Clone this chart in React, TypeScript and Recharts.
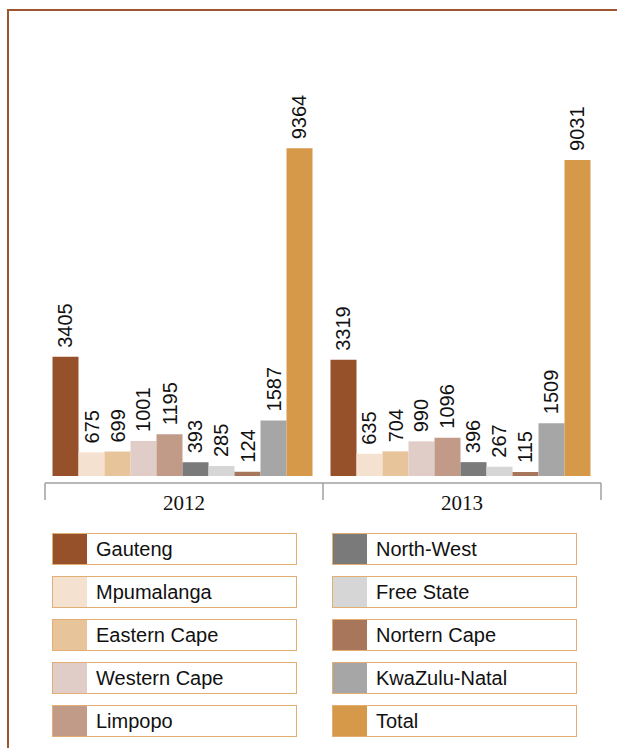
import React from 'react';
import { BarChart, Bar, XAxis, YAxis, Legend, LabelList } from 'recharts';

const years = ['2012', '2013'];
const provinces = [
  'Gauteng', 'Mpumalanga', 'Eastern Cape', 'Western Cape', 'Limpopo',
  'North-West', 'Free State', 'Nortern Cape', 'KwaZulu-Natal', 'Total',
];
const values2012 = [3405, 675, 699, 1001, 1195, 393, 285, 124, 1587, 9364];
const values2013 = [3319, 635, 704, 990, 1096, 396, 267, 115, 1509, 9031];
const colors = [
  '#96502A', '#F5E1CF', '#E8C49A', '#E1CDC7', '#C29B88',
  '#7A7A7A', '#D6D6D6', '#A8775B', '#A6A6A6', '#D6994A',
];

const seriesByYear = [values2012, values2013];
const data = years.map((y, i) => {
  const row: Record<string, any> = { year: y };
  provinces.forEach((_, j) => {
    row['s' + j] = seriesByYear[i][j];
  });
  return row;
});

const SANS = '"Liberation Sans", Arial, sans-serif';
const SERIF = '"Liberation Serif", "Times New Roman", serif';

const renderValueLabel = (props: any) => {
  const { x, y, width, value } = props;
  const cx = Number(x) + Number(width) / 2;
  const ty = Number(y) - 9;
  return (
    <text
      x={cx}
      y={ty}
      transform={`rotate(-90 ${cx} ${ty})`}
      textAnchor="start"
      dominantBaseline="central"
      fontFamily={SANS}
      fontSize={20}
      fill="#111"
    >
      {value}
    </text>
  );
};

const YearTick = (props: any) => {
  const { x, y, payload, index, visibleTicksCount, width } = props;
  const count = visibleTicksCount || years.length;
  const bw = (width ? Number(width) : 556) / count;
  const left = x - bw / 2;
  const right = x + bw / 2;
  return (
    <g>
      <line x1={left} y1={y} x2={left} y2={y + 17} stroke="#A0A0A0" strokeWidth={1.5} />
      {index === count - 1 && (
        <line x1={right} y1={y} x2={right} y2={y + 17} stroke="#A0A0A0" strokeWidth={1.5} />
      )}
      <text x={x} y={y + 27} textAnchor="middle" fontFamily={SERIF} fontSize={21} fill="#111">
        {payload.value}
      </text>
    </g>
  );
};

const renderLegend = () => (
  <div style={{ position: 'relative', width: 617, height: 215 }}>
    {provinces.map((p, i) => {
      const col = Math.floor(i / 5);
      const row = i % 5;
      return (
        <div
          key={p}
          style={{
            position: 'absolute',
            left: 52 + col * 280,
            top: row * 43.1,
            width: 245,
            height: 32,
            boxSizing: 'border-box',
            border: '1.5px solid #E2AE73',
            display: 'flex',
            alignItems: 'center',
            background: '#fff',
          }}
        >
          <div style={{ width: 34, height: '100%', background: colors[i] }} />
          <span style={{ marginLeft: 9, fontFamily: SANS, fontSize: 20, color: '#111', lineHeight: 1 }}>
            {p}
          </span>
        </div>
      );
    })}
  </div>
);

export default function App() {
  return (
    <div style={{ position: 'absolute', left: 0, top: 0, width: 617, height: 748, background: '#fff', overflow: 'hidden' }}>
      <div
        style={{
          position: 'absolute',
          left: 7,
          top: 9,
          width: 620,
          height: 750,
          borderTop: '2px solid #9C5530',
          borderLeft: '2px solid #9C5530',
        }}
      />
      <div style={{ position: 'absolute', left: 0, top: 0 }}>
        <BarChart
          width={617}
          height={748}
          data={data}
          margin={{ top: 126, right: 16, bottom: 225, left: 45 }}
          barGap={0}
          barCategoryGap="2.7%"
        >
          <XAxis
            dataKey="year"
            height={40}
            axisLine={{ stroke: '#A0A0A0', strokeWidth: 1.5 }}
            tickLine={false}
            tickSize={0}
            tickMargin={0}
            tick={<YearTick />}
            interval={0}
          />
          <YAxis type="number" domain={[-200, 10000]} allowDataOverflow hide />
          <Legend
            layout="vertical"
            align="center"
            verticalAlign="middle"
            content={renderLegend}
            wrapperStyle={{ left: 0, top: 533, width: 617, height: 215 }}
          />
          {provinces.map((p, j) => (
            <Bar key={p} dataKey={'s' + j} name={p} fill={colors[j]} isAnimationActive={false}>
              <LabelList dataKey={'s' + j} content={renderValueLabel} />
            </Bar>
          ))}
        </BarChart>
      </div>
    </div>
  );
}
